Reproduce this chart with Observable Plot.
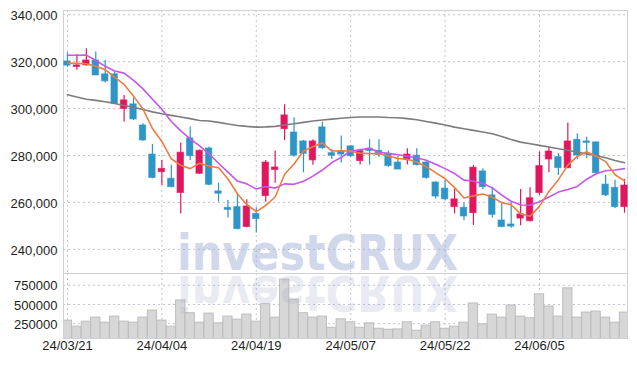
<!DOCTYPE html>
<html>
<head>
<meta charset="utf-8">
<script src="https://cdn.jsdelivr.net/npm/d3@7"></script>
<script src="https://cdn.jsdelivr.net/npm/@observablehq/plot@0.6"></script>
<style>
  body { margin: 0; background: #fff; }
  #wrap { position: relative; width: 637px; height: 367px; overflow: hidden; }
  #wrap > svg, #wrap > div { position: absolute; left: 0; }
</style>
</head>
<body>
<div id="wrap"></div>
<script>
const dates = ["24/03/21","24/03/22","24/03/25","24/03/26","24/03/27","24/03/28","24/03/29","24/04/01","24/04/02","24/04/03",
  "24/04/04","24/04/05","24/04/08","24/04/09","24/04/11","24/04/12","24/04/15","24/04/16","24/04/17","24/04/18",
  "24/04/19","24/04/22","24/04/23","24/04/24","24/04/25","24/04/26","24/04/29","24/04/30","24/05/02","24/05/03",
  "24/05/07","24/05/08","24/05/09","24/05/10","24/05/13","24/05/14","24/05/16","24/05/17","24/05/20","24/05/21",
  "24/05/22","24/05/23","24/05/24","24/05/27","24/05/28","24/05/29","24/05/30","24/05/31","24/06/03","24/06/04",
  "24/06/05","24/06/07","24/06/10","24/06/11","24/06/12","24/06/13","24/06/14","24/06/17","24/06/18","24/06/19"];

const opens = [320100,317700,318400,320500,314600,314600,299800,301800,292800,280400,
  272900,270100,264000,287300,272200,283000,264700,257700,258000,249500,
  255100,262700,273800,291200,289800,286000,277900,292000,281000,281900,
  283900,277600,282900,282000,280700,277000,278000,279900,277000,268500,
  265900,258000,257700,255400,273200,263000,252300,250600,253100,252000,
  264000,278300,279300,274600,286700,286000,285600,267600,266200,258000];
const highs = [323800,323000,325500,324100,320500,315600,305600,304600,293500,284700,
  277900,275800,285300,292100,282300,283600,268200,260800,263700,261100,
  257700,277900,281900,301600,296100,286400,286700,294200,282600,288300,
  284100,282700,286700,286700,281900,279600,282900,282900,277300,268800,
  269400,265700,259800,275800,274300,266500,260100,260100,265500,266200,
  281400,283600,280700,293800,289300,287800,285600,271500,269400,269800];
const lows = [317700,316300,318000,314100,310900,302000,294200,294900,286100,270100,
  267200,266200,255100,277900,271900,267100,260100,253400,248300,249200,
  247000,260100,268200,286400,279300,272600,275800,282700,278300,276800,
  279300,275900,275900,279300,275000,274000,275900,275500,269900,261500,
  260800,255100,252300,250200,265400,253400,249200,249000,250000,251600,
  263000,272600,271500,274300,278200,278600,272200,262500,257400,255400];
const closes = [318300,318400,320500,314100,311600,302100,303500,295400,286400,270400,
  274300,266500,281200,279700,282000,267500,263700,256800,248600,258300,
  252900,277000,274900,297100,279900,280700,286000,283100,279900,280400,
  279700,282000,281900,280200,275500,274000,280400,275900,270400,262500,
  261300,261300,254000,274800,266500,254700,249500,249700,254900,261800,
  275500,281700,274600,286000,280000,285400,272500,263000,258000,267200];

const volumes = [289500,210500,276300,329000,263200,342100,276300,263200,329000,421000,
  289500,210500,552600,386000,263200,381600,254400,342100,302600,368400,
  276300,504400,329000,824600,561400,386000,329000,342100,197400,307000,
  267500,197400,254400,184200,171000,175400,267500,157900,223700,267500,
  184200,210500,263200,513200,241200,368400,329000,486800,342100,320200,
  631600,473700,342100,710500,329000,394700,407900,329000,263200,394700];

// moving averages
const ma5 = [319400,319250,319100,318000,316600,313300,310300,305300,299800,291500,
  286000,278600,275800,274400,276700,275400,274800,270000,263700,259000,
  256100,258700,262300,272000,276400,281900,283700,285400,281900,282000,
  281800,281000,280800,280800,279800,278700,278400,277200,275200,272700,
  270100,266300,261900,262800,263600,262200,259900,259000,255100,254100,
  258300,264700,269700,275900,279600,281600,279700,277400,271800,269200];
const ma10 = [322700,322700,322800,320500,318000,316000,315100,312000,308400,304000,
  299700,294500,290500,287100,284100,280700,276700,272900,269100,267900,
  265700,266800,266100,267900,267700,269000,271200,273800,277000,279200,
  281900,282400,283100,281400,280900,280300,279700,279000,278000,276300,
  274400,272300,269500,269000,268100,266200,263100,260500,258900,258800,
  260300,262300,264400,265500,266800,269900,272200,273500,273800,274400];
const ma60 = [305900,304900,304000,303500,302900,302200,301300,300500,299600,298600,
  297800,297100,296400,295700,294900,294700,294100,293400,292800,292400,
  292100,292200,292400,293000,293500,294100,294700,295100,295500,295900,
  296200,296400,296400,296400,296200,296100,295700,295200,294500,293800,
  293000,292100,291400,290700,290000,289300,288100,286800,285700,285000,
  284300,283600,282900,282200,281400,280700,280000,279000,277900,276900];

const priceTicks = [240000, 260000, 280000, 300000, 320000, 340000];
const volumeTicks = [250000, 500000, 750000];
const dateTickIdx = [0, 10, 20, 30, 40, 50];

const UP = "#e0175f", DOWN = "#2e95c7";
const FONT = "Liberation Sans, Arial, sans-serif";
const GRID = {stroke: "#bfc3d6", strokeDasharray: "2,3", strokeWidth: 1};

const data = dates.map((d, i) => ({
  i, date: d, open: opens[i], high: highs[i], low: lows[i], close: closes[i],
  volume: volumes[i], ma5: ma5[i], ma10: ma10[i], ma60: ma60[i]
}));
const xDomain = [-0.42, 59.32];

const price = Plot.plot({
  width: 637, height: 273,
  marginTop: 10, marginBottom: 0, marginLeft: 63, marginRight: 10,
  x: {domain: xDomain, axis: null},
  y: {domain: [229700, 341800], axis: null},
  style: {fontFamily: FONT, fontSize: "13px", background: "transparent"},
  marks: [
    Plot.ruleY(priceTicks, {y: d => d, ...GRID}),
    Plot.ruleX(dateTickIdx, {x: d => d, ...GRID}),
    Plot.frame({stroke: "#cfcfd6"}),
    Plot.ruleX(data.filter(d => d.close >= d.open), {x: "i", y1: "low", y2: "high", stroke: UP, strokeWidth: 1.2}),
    Plot.ruleX(data.filter(d => d.close < d.open), {x: "i", y1: "low", y2: "high", stroke: DOWN, strokeWidth: 1.2}),
    Plot.rect(data.filter(d => d.close >= d.open), {x1: d => d.i - 0.34, x2: d => d.i + 0.34, y1: "open", y2: "close", fill: UP, stroke: UP, strokeOpacity: 0.6}),
    Plot.rect(data.filter(d => d.close < d.open), {x1: d => d.i - 0.34, x2: d => d.i + 0.34, y1: "open", y2: "close", fill: DOWN, stroke: DOWN, strokeOpacity: 0.6}),
    Plot.line(data, {x: "i", y: "ma60", stroke: "#7c7c7c", strokeWidth: 1.6}),
    Plot.line(data, {x: "i", y: "ma10", stroke: "#c656ea", strokeWidth: 1.6}),
    Plot.line(data, {x: "i", y: "ma5", stroke: "#ee7d40", strokeWidth: 1.6}),
    Plot.text(priceTicks, {y: d => d, text: d => d3.format(",")(d), frameAnchor: "left", textAnchor: "end", dx: -6, dy: 1, fill: "#1e1e1e", fontSize: 13})
  ]
});
price.style.top = "0px";

const vol = Plot.plot({
  width: 637, height: 94,
  marginTop: 0, marginBottom: 29, marginLeft: 63, marginRight: 10,
  x: {domain: xDomain, axis: null},
  y: {domain: [57000, 903500], axis: null},
  style: {fontFamily: FONT, fontSize: "13px", background: "transparent"},
  marks: [
    Plot.ruleY(volumeTicks, {y: d => d, ...GRID}),
    Plot.ruleX(dateTickIdx, {x: d => d, ...GRID}),
    Plot.rect(data, {x1: d => d.i - 0.49, x2: d => d.i + 0.49, y1: 0, y2: "volume", fill: "#d7d7d7", stroke: "#bdbdbd", strokeWidth: 1, clip: true}),
    Plot.frame({stroke: "#cfcfd6"}),
    Plot.text(volumeTicks, {y: d => d, text: d => d3.format("d")(d), frameAnchor: "left", textAnchor: "end", dx: -6, dy: 1, fill: "#1e1e1e", fontSize: 13}),
    Plot.text(dateTickIdx, {x: d => d, text: d => dates[d], frameAnchor: "bottom", dy: 11, fill: "#1e1e1e", fontSize: 13})
  ]
});
vol.style.top = "273px";

const wrap = document.getElementById("wrap");
wrap.appendChild(price);
wrap.appendChild(vol);

// watermark with reflection
const WMFONT = "DejaVu Sans, Liberation Sans, sans-serif";
const wm = d3.create("svg").attr("width", 637).attr("height", 367)
  .style("position", "absolute").style("top", "0px").style("left", "0px").style("pointer-events", "none");
wm.append("text").attr("x", 177).attr("y", 270).attr("textLength", 281).attr("lengthAdjust", "spacingAndGlyphs")
  .attr("font-family", WMFONT).attr("font-weight", "bold").attr("font-size", 49)
  .attr("fill", "#9aa8d2").attr("fill-opacity", 0.45).text("investCRUX");
wm.append("text").attr("x", 177).attr("y", 270).attr("textLength", 281).attr("lengthAdjust", "spacingAndGlyphs")
  .attr("transform", "translate(0,546) scale(1,-1)")
  .attr("font-family", WMFONT).attr("font-weight", "bold").attr("font-size", 49)
  .attr("fill", "#a2a4c4").attr("fill-opacity", 0.22).text("investCRUX");
wrap.appendChild(wm.node());
</script>
</body>
</html>
